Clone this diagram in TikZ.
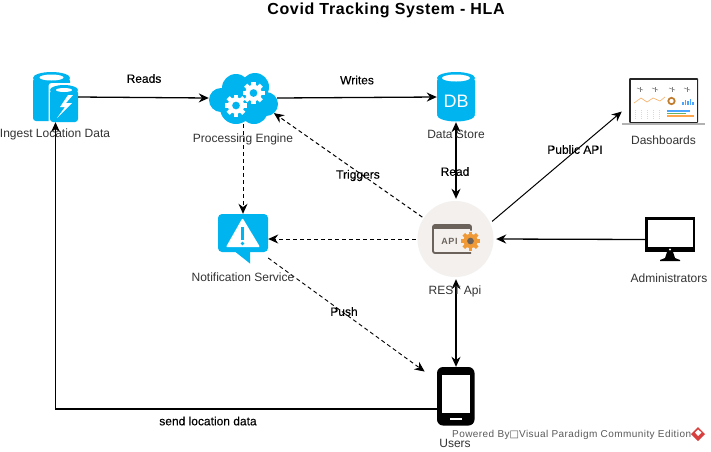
\documentclass[tikz,border=0pt]{standalone}
\usepackage{fontspec}
\setmainfont{Liberation Sans}
\newfontfamily\lblfont[FakeBold=0.25]{Liberation Sans}
\newfontfamily\wmfont[LetterSpace=4.4]{Liberation Sans}
\newfontfamily\symfont{DejaVu Sans}
\usetikzlibrary{arrows.meta}
\definecolor{cyanicon}{HTML}{00B5EF}
\definecolor{apigray}{HTML}{6B625B}
\definecolor{apibg}{HTML}{F3F0EE}
\definecolor{gearorange}{HTML}{F09A37}
\definecolor{wmgray}{HTML}{5A5A5A}
\definecolor{logored}{HTML}{D8403F}
\tikzset{
  caplbl/.style={font=\fontsize{12}{14}\selectfont,text=black!80,inner sep=0pt},
  edgelbl/.style={font=\lblfont\fontsize{12}{14}\selectfont,text=black,inner sep=0pt},
  conn/.style={draw=black,line width=1.3pt,-{Stealth[length=10pt,width=9pt]}},
  connboth/.style={draw=black,line width=1.3pt,{Stealth[length=10pt,width=9pt]}-{Stealth[length=10pt,width=9pt]}},
  thinconn/.style={draw=black,line width=1pt,-{Stealth[length=10pt,width=9pt]}},
  dashconn/.style={draw=black,line width=1pt,dash pattern=on 4pt off 3pt,-{Stealth[length=10pt,width=9pt]}}
}
\newcommand{\gearicon}[5]{% x y r col holecol
  \foreach \a in {0,45,...,315}{
    \fill[#4,rotate around={\a:(#1,#2)}] (#1-0.2*#3,#2) rectangle (#1+0.2*#3,#2-#3);
  }
  \fill[#4] (#1,#2) circle[radius=0.75*#3 pt];
  \fill[#5] (#1,#2) circle[radius=0.35*#3 pt];
}
\begin{document}
\begin{tikzpicture}[x=1pt,y=-1pt]
\useasboundingbox (0,0) rectangle (711,451);
\fill[white] (0,0) rectangle (711,451);

% anchor nodes
\node[inner sep=0pt,minimum width=45pt,minimum height=50pt] (ingest) at (55.5,97) {};
\node[inner sep=0pt,minimum width=68pt,minimum height=52pt] (cloud) at (243,98) {};
\node[inner sep=0pt,minimum width=38pt,minimum height=50pt] (db) at (456,97) {};
\node[inner sep=0pt,minimum width=84pt,minimum height=48pt] (dash) at (664,101) {};
\node[inner sep=0pt,minimum width=50pt,minimum height=50pt] (note) at (243,239) {};
\node[circle,inner sep=0pt,minimum size=80pt] (api) at (456,239) {};
\node[inner sep=0pt,minimum width=50pt,minimum height=45pt] (admin) at (670,239.5) {};
\node[inner sep=0pt,minimum width=38pt,minimum height=59pt] (users) at (456,396.5) {};

% Title
\node[inner sep=0pt,font=\bfseries\fontsize{16}{18}\selectfont\addfontfeature{LetterSpace=4}] (title) at (386,10) {Covid Tracking System - HLA};

% Ingest icon
\fill[cyanicon,rounded corners=3pt] (33,78) rectangle (70,121);
\fill[cyanicon] (51.5,78) circle[x radius=18.5pt,y radius=6pt];
\fill[white] (51.5,77.5) circle[x radius=12pt,y radius=3pt];
\fill[white,rounded corners=3pt] (48.5,83) rectangle (79.5,124);
\fill[cyanicon,rounded corners=3pt] (50,90) rectangle (78,122);
\fill[cyanicon] (64,90) circle[x radius=14pt,y radius=5pt];
\fill[white] (64,90) circle[x radius=8pt,y radius=2pt];
\fill[white] (68,95) -- (60,107) -- (65,107) -- (57,118) -- (72,103) -- (66,103) -- (73,95) -- cycle;

% Cloud icon
\fill[cyanicon] (221,100) circle[radius=12pt] (236,88) circle[radius=14pt] (255,87) circle[radius=14pt]
  (266,104) circle[radius=12pt] (236,108) circle[radius=16pt] (254,110) circle[radius=14pt] (245,98) circle[radius=18pt];
\gearicon{236}{105.5}{11}{white}{cyanicon}
\gearicon{253.5}{93}{11}{white}{cyanicon}

% DB icon
\fill[cyanicon,rounded corners=3pt] (437,78) rectangle (475,116);
\fill[cyanicon] (456,78) circle[x radius=19pt,y radius=6pt];
\fill[cyanicon] (456,115) circle[x radius=19pt,y radius=6.5pt];
\fill[white] (456,78) circle[x radius=14pt,y radius=3.5pt];
\node[inner sep=0pt,text=white,font=\fontsize{18}{20}\selectfont] (dbtxt) at (456,101) {DB};

% Laptop icon
\fill[black!85,rounded corners=1pt] (629,78) rectangle (698,123);
\fill[white] (630.5,80) rectangle (696.5,122);
\fill[black!30] (622,123) rectangle (705,124.5);
\foreach \x in {640,655,672,687}{
  \draw[black!50,line width=0.6pt] (\x-3,88) -- (\x+3,90);
  \draw[black!50,line width=0.6pt] (\x,87) -- (\x,92);
}
\draw[gearorange!70,line width=0.7pt] (634,103) -- (641,98) -- (647,102) -- (653,98) -- (660,101) -- (665,97);
\draw[gearorange!80!black,line width=1.7pt] (671.5,101) circle[radius=3.2pt];
\foreach \x/\h in {682/3,684.5/5,687/4,689.5/6,692/3}{
  \fill[blue!50!cyan!70] (\x,104.5) rectangle (\x+1.6,104.5-\h);
}
\foreach \x in {635,641,647,653,659}{
  \draw[black!15,line width=0.6pt,dash pattern=on 1pt off 1pt] (\x,110) -- (\x,120);
}
\fill[blue!50!cyan!70] (667,110) rectangle (690,111.5);
\fill[green!50!black!60] (667,112.5) rectangle (686,114);
\fill[orange!70] (667,115) rectangle (694,116.5);

% Notification icon
\fill[cyanicon,rounded corners=4pt] (218,214) rectangle (268,252);
\fill[cyanicon] (233,250) -- (250,250) -- (250,263.5) -- cycle;
\fill[white,rounded corners=1pt] (242.5,218) -- (226,247) -- (260,247) -- cycle;
\fill[cyanicon] (241,227) rectangle (244,240);
\fill[cyanicon] (242.5,243.5) circle[radius=1.8pt];

% API icon
\fill[apibg] (455.5,239) circle[radius=38pt];
\draw[apigray,line width=1.8pt,rounded corners=2pt] (471,236) -- (471,225) -- (433,225) -- (433,253) -- (471,253);
\fill[apigray] (433,225) rectangle (471,228.5);
\node[inner sep=0pt,text=apigray,font=\bfseries\fontsize{9}{10}\selectfont\addfontfeature{LetterSpace=8}] (apitxt) at (449.5,241) {API};
\fill[apibg] (470.5,241) circle[radius=10.5pt];
\gearicon{470.5}{241}{9.5}{gearorange}{apigray}

% Monitor icon
\fill[black] (645,217) rectangle (695,252);
\fill[white] (647.5,220) rectangle (692.5,247);
\fill[white] (670,249.5) circle[radius=1.2pt];
\fill[black] (667,252) -- (673,252) -- (675,258) -- (680,260) -- (680,261) -- (660,261) -- (660,260) -- (665,258) -- cycle;

% Phone icon
\fill[black,rounded corners=6pt] (437,367) rectangle (474.5,425.5);
\fill[white] (442,375) rectangle (470,413);
\fill[white] (450,417.5) rectangle (462,420);

% Red logo
\fill[logored] (698,427) -- (705,434) -- (698,441) -- (691,434) -- cycle;
\fill[white] (698,429.5) -- (701.5,432.5) -- (698,436) -- (695,432.5) -- cycle;

% Connectors
\path[conn] (ingest.east) -- (cloud.west);
\path[conn] (cloud.east) -- (db.west);
\path[connboth] (db.south) -- (api.north);
\path[thinconn] (api.26) -- (dash.194.7);
\path[conn] (admin.west) -- (api.east);
\path[dashconn,shorten >=-4pt] (api.147) -- (cloud.-27);
\path[dashconn] (cloud.south) -- (note.north);
\path[dashconn] (api.west) -- (note.east);
\path[dashconn,line width=0.9pt,shorten >=15pt] (note.-37.2) -- (users.140.3);
\path[connboth] (api.south) -- (users.north);
\path[conn] (users.213.3) -| (ingest.south);

% Captions
\node[caplbl] (l1) at (55,134.5) {Ingest Location Data};
\node[caplbl] (l2) at (243,139) {Processing Engine};
\node[caplbl] (l3) at (456,134.5) {Data Store};
\node[caplbl] (l4) at (663.5,140) {Dashboards};
\node[caplbl] (l5) at (243,277) {Notification Service};
\node[caplbl] (l6) at (455,291) {REST Api};
\node[caplbl] (l7) at (669,278) {Administrators};
\node[caplbl] (l8) at (455,443) {Users};

% Edge labels
\node[edgelbl] (e1) at (144,78.5) {Reads};
\node[edgelbl] (e2) at (357,80) {Writes};
\node[edgelbl] (e3) at (575,149.5) {Public API};
\node[edgelbl] (e4) at (455,171.5) {Read};
\node[edgelbl] (e5) at (358,175.5) {Triggers};
\node[edgelbl] (e6) at (344,311.5) {Push};
\node[edgelbl] (e7) at (208,421) {send location data};

% Watermark
\node[anchor=west,inner sep=0pt,text=wmgray,font=\wmfont\fontsize{10}{12}\selectfont] (wm) at (452,434.5) {Powered By{\symfont\fontsize{10}{12}\selectfont □}Visual Paradigm Community Edition};
\end{tikzpicture}
\end{document}
